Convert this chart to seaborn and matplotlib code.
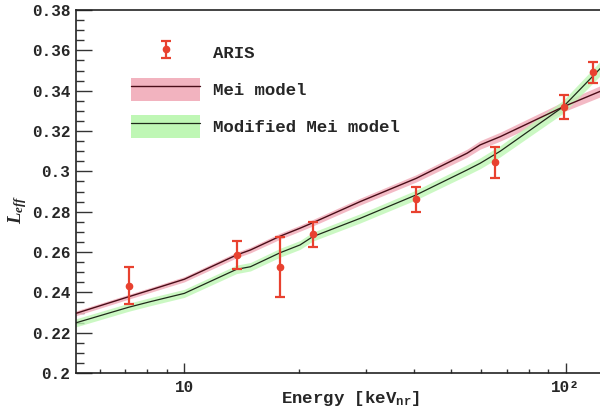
import numpy as np
import pandas as pd
import matplotlib
matplotlib.use("Agg")
import matplotlib.pyplot as plt
import seaborn as sns
from matplotlib.patches import Patch
from matplotlib.lines import Line2D
from matplotlib.ticker import MultipleLocator, FixedLocator, NullFormatter, FuncFormatter

# ---- data ----
aris_E = [7.14, 13.7, 17.85, 21.7, 40.5, 65.3, 98.6, 118.0]
aris_L = [0.2431, 0.2585, 0.2527, 0.2688, 0.2863, 0.3046, 0.3320, 0.3491]
aris_err_lo = [0.0091, 0.0071, 0.0149, 0.0065, 0.0065, 0.0079, 0.0062, 0.0051]
aris_err_hi = [0.0093, 0.0071, 0.0149, 0.0063, 0.0059, 0.0075, 0.0059, 0.0050]

model_E = [5.2, 7.14, 8.15, 10.0, 13.7, 14.9, 17.85, 20.1, 21.7, 28.9, 40.5, 55.1, 59.6, 67.3, 98.4, 126.0]
mei_L = [0.2296, 0.2378, 0.2412, 0.2465, 0.2585, 0.2610, 0.2679, 0.2718, 0.2745, 0.2850, 0.2965, 0.3090, 0.3131, 0.3172, 0.3320, 0.3405]
mei_err = [0.0012, 0.0012, 0.0012, 0.0013, 0.0014, 0.0014, 0.0015, 0.0015, 0.0016, 0.0017, 0.0018, 0.0020, 0.0021, 0.0022, 0.0025, 0.0028]
mod_L = [0.2249, 0.2326, 0.2354, 0.2395, 0.2514, 0.2527, 0.2597, 0.2635, 0.2676, 0.2767, 0.2883, 0.3007, 0.3040, 0.3100, 0.3320, 0.3530]
mod_err = [0.0020, 0.0020, 0.0020, 0.0020, 0.0021, 0.0021, 0.0022, 0.0022, 0.0022, 0.0023, 0.0024, 0.0026, 0.0027, 0.0028, 0.0032, 0.0036]

y_ticks = [0.2, 0.22, 0.24, 0.26, 0.28, 0.3, 0.32, 0.34, 0.36, 0.38]
x_ticks = [10, 100]
x_ticklabels = ["10", "10\u00b2"]

# ---- style ----
sns.set_theme(style="ticks")
plt.rcParams["font.family"] = ["Liberation Mono", "DejaVu Sans Mono"]
plt.rcParams["font.weight"] = "bold"
plt.rcParams["mathtext.fontset"] = "custom"
plt.rcParams["mathtext.rm"] = "Liberation Mono:bold"
plt.rcParams["mathtext.it"] = "Liberation Serif:italic:bold"

red = "#e8412f"
pink = "#f2b3bf"
green = "#bff7b5"
mei_line = "#4a0d18"
mod_line = "#1f2a1a"

fig = plt.figure(figsize=(6.0, 4.09), dpi=100)
ax = fig.add_axes([0.1267, 0.088, 0.88, 0.8875])

df_mei = pd.DataFrame({"E": model_E, "L": mei_L})
df_mod = pd.DataFrame({"E": model_E, "L": mod_L})

ax.fill_between(model_E, np.array(mei_L) - np.array(mei_err), np.array(mei_L) + np.array(mei_err),
                color=pink, lw=0, alpha=0.9, zorder=1)
ax.fill_between(model_E, np.array(mod_L) - np.array(mod_err), np.array(mod_L) + np.array(mod_err),
                color=green, lw=0, alpha=0.8, zorder=2)
sns.lineplot(data=df_mei, x="E", y="L", ax=ax, color=mei_line, lw=1.0, estimator=None, sort=False, zorder=3)
sns.lineplot(data=df_mod, x="E", y="L", ax=ax, color=mod_line, lw=0.9, estimator=None, sort=False, zorder=3)

eb = ax.errorbar(aris_E, aris_L, yerr=[aris_err_lo, aris_err_hi], fmt="o", color=red, ms=4.5,
                 elinewidth=1.6, capsize=3.5, capthick=1.6, zorder=4)

ax.set_xscale("log")
ax.set_xlim(5.2, 125.9)
ax.set_ylim(0.2, 0.38)

ax.yaxis.set_major_locator(FixedLocator(y_ticks))
ax.yaxis.set_minor_locator(MultipleLocator(0.005))
ax.yaxis.set_major_formatter(FuncFormatter(lambda v, p: ("%.2f" % v).rstrip("0")))
ax.xaxis.set_major_locator(FixedLocator(x_ticks))
ax.set_xticklabels(x_ticklabels)
ax.xaxis.set_minor_locator(FixedLocator([6, 7, 8, 9, 20, 30, 40, 50, 60, 70, 80, 90]))
ax.xaxis.set_minor_formatter(NullFormatter())

ax.tick_params(axis="y", which="major", direction="in", length=11.5, width=1.0, labelsize=11.5, pad=4, color="#333333")
ax.tick_params(axis="y", which="minor", direction="in", length=6, width=1.0, color="#333333")
ax.tick_params(axis="x", which="major", direction="in", length=7.5, width=1.0, labelsize=11.5, pad=5, color="#333333")
ax.tick_params(axis="x", which="minor", direction="in", length=3.2, width=1.0, color="#333333")
for lab in ax.get_xticklabels() + ax.get_yticklabels():
    lab.set_fontweight("bold")

for s in ["left", "bottom", "top"]:
    ax.spines[s].set_linewidth(1.2)
    ax.spines[s].set_color("#222222")
ax.spines["right"].set_visible(False)

ax.set_xlabel("Energy [keV$_{\\mathrm{nr}}$]", fontsize=12.5, fontweight="bold", va="bottom")
ax.xaxis.set_label_coords(0.52, -0.097)
ax.set_ylabel("$\\mathit{L}_{\\mathit{eff}}$", fontsize=13.5)
ax.yaxis.set_label_coords(-0.09, 0.45)

handles = [eb,
           (Patch(facecolor=pink, edgecolor="none"), Line2D([], [], color=mei_line, lw=1.0)),
           (Patch(facecolor=green, edgecolor="none"), Line2D([], [], color=mod_line, lw=0.9))]
labels = ["ARIS", "Mei model", "Modified Mei model"]
ax.legend(handles, labels, loc="upper left", bbox_to_anchor=(0.104, 0.915), frameon=False,
          borderpad=0, borderaxespad=0, handlelength=4.0, handleheight=1.67, labelspacing=0.8,
          handletextpad=0.75, prop={"family": "Liberation Mono", "weight": "bold", "size": 12.5})

fig.savefig("out.png", dpi=100)
